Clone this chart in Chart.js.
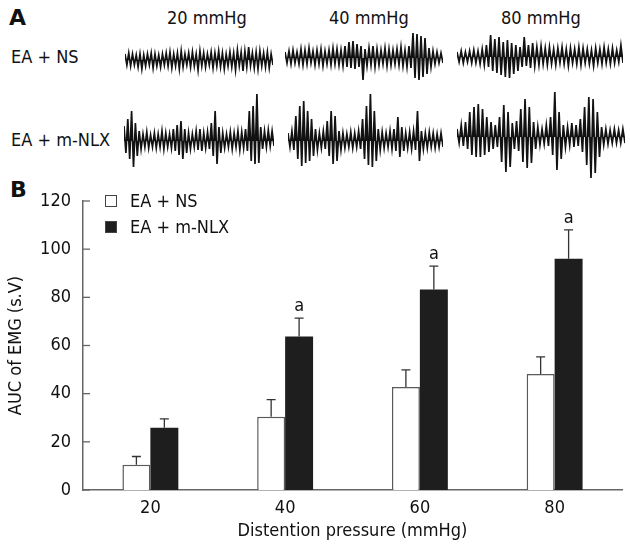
<!DOCTYPE html>
<html>
<head>
<meta charset="utf-8">
<script src="https://cdn.jsdelivr.net/npm/chart.js@4.4.1/dist/chart.umd.min.js"></script>
<style>
  body { margin: 0; background: #fff; }
  #page { position: relative; width: 630px; height: 546px; overflow: hidden;
          font-family: 'DejaVu Sans Condensed', 'Liberation Sans', sans-serif; color: #111; }
  .txt { position: absolute; font-size: 18px; line-height: 20px; white-space: nowrap; }
  .panel { font-weight: bold; font-size: 22px; font-family: 'DejaVu Sans', sans-serif; }
  canvas.trace { position: absolute; }
  #barWrap { position: absolute; left: 0; top: 170px; width: 630px; height: 376px; }
</style>
</head>
<body>
<div id="page">
  <div class="txt panel" style="left:9px; top:8px;">A</div>
  <div class="txt" style="left:167px; top:8px;">20 mmHg</div>
  <div class="txt" style="left:329px; top:8px;">40 mmHg</div>
  <div class="txt" style="left:501px; top:8px;">80 mmHg</div>
  <div class="txt" style="left:11px; top:47px;">EA + NS</div>
  <div class="txt" style="left:11px; top:130px;">EA + m-NLX</div>
  <div class="txt panel" style="left:10px; top:180px;">B</div>

  <canvas class="trace" id="ns20" width="148" height="60" style="left:125px; top:30px;"></canvas>
  <canvas class="trace" id="ns40" width="158" height="60" style="left:285px; top:28px;"></canvas>
  <canvas class="trace" id="ns80" width="166" height="60" style="left:457px; top:27px;"></canvas>
  <canvas class="trace" id="nlx20" width="150" height="100" style="left:124px; top:91px;"></canvas>
  <canvas class="trace" id="nlx40" width="155" height="100" style="left:288px; top:91px;"></canvas>
  <canvas class="trace" id="nlx80" width="168" height="100" style="left:457px; top:87px;"></canvas>

  <div id="barWrap"><canvas id="aucChart" width="630" height="376"></canvas></div>
</div>

<script>
// Panel A: EMG excursions (upward / downward peak per time bin)
const ns20Up   = [6,7,6,5,6,5,6,7,6,5,6,7,8,6,7,9,6,7,8,6,9,7,6,8,7,9,7,6,8,7,10,8,9,13,7,8,9,7,8,6];
const ns20Down = [5,6,5,7,9,6,5,8,6,7,5,6,8,6,9,7,5,7,6,10,6,7,5,8,6,7,9,6,7,10,6,11,7,6,8,9,6,7,8,5];
const ns40Up   = [6,7,8,6,9,8,10,7,8,9,7,8,10,9,8,12,16,17,14,12,9,10,12,9,8,10,9,8,9,11,8,12,25,24,22,20,10,7,6,5];
const ns40Down = [5,6,5,6,7,6,5,7,6,8,6,7,6,7,8,9,10,11,9,22,8,7,9,7,6,8,7,6,7,8,9,10,20,22,19,16,9,6,5,5];
const ns80Up   = [5,6,5,6,7,6,8,12,22,18,20,15,17,14,12,10,20,12,14,10,11,9,10,8,9,10,8,9,8,10,9,8,7,9,8,10,8,9,7,12];
const ns80Down = [5,6,5,6,6,7,8,10,14,16,18,20,21,17,14,10,9,11,9,8,7,8,7,8,6,7,9,6,7,8,6,7,9,6,7,6,7,6,5,6];

const nlx20Up   = [15,22,30,18,10,7,9,6,8,7,10,8,7,12,16,20,12,8,7,10,12,8,9,18,30,14,8,7,9,8,10,9,12,30,35,47,14,10,11,10];
const nlx20Down = [12,18,26,15,8,6,7,6,7,6,8,6,7,10,14,18,12,8,6,9,10,7,8,15,23,12,7,6,8,6,9,7,10,20,23,22,8,6,5,5];
const nlx40Up   = [8,10,25,35,40,30,22,12,8,10,20,30,25,10,8,7,9,8,10,22,35,47,30,12,9,8,10,12,24,14,8,9,10,30,10,8,9,8,7,8];
const nlx40Down = [6,9,18,25,22,20,15,9,7,8,15,23,20,9,7,6,7,6,8,18,24,26,20,9,7,6,8,10,16,10,7,8,9,20,8,7,6,7,6,6];
const nlx80Up   = [8,12,15,25,30,33,28,20,15,12,20,32,25,14,16,28,38,30,15,10,8,12,20,45,25,12,10,14,12,18,30,40,38,25,10,8,7,8,7,8];
const nlx80Down = [6,9,12,18,20,20,18,15,12,10,25,35,30,12,14,25,31,26,12,8,7,9,18,33,22,10,8,10,9,15,28,41,36,20,8,7,6,6,6,6];

// Panel B: AUC of EMG
const pressures = ['20', '40', '60', '80'];
const aucNS     = [10.5, 30.4, 42.8, 48.2];
const aucNSErr  = [3.4, 7.1, 7.1, 7.1];
const aucNLX    = [25.8, 63.7, 83.3, 96.0];
const aucNLXErr = [3.7, 7.7, 9.7, 12.0];
const nlxMarks  = ['', 'a', 'a', 'a'];
const yTicks    = [0, 20, 40, 60, 80, 100, 120];

const FONT = "'DejaVu Sans Condensed', 'Liberation Sans', sans-serif";

// draw one EMG trace: zigzag between the up and down peaks, filled to the baseline
function drawTrace(id, up, down, amp) {
    const points = [];
    up.forEach((u, i) => { points.push(u); points.push(-down[i]); });
    new Chart(document.getElementById(id), {
        type: 'line',
        data: {
            labels: points.map((_, i) => i),
            datasets: [{
                data: points,
                borderColor: '#121212',
                backgroundColor: '#121212',
                borderWidth: 1.7,
                borderJoinStyle: 'miter',
                pointRadius: 0,
                tension: 0,
                fill: 'origin'
            }]
        },
        options: {
            responsive: false,
            animation: false,
            events: [],
            layout: { padding: 0 },
            plugins: { legend: { display: false }, tooltip: { enabled: false } },
            scales: {
                x: { display: false },
                y: { display: false, min: -amp, max: amp }
            }
        }
    });
}

drawTrace('ns20', ns20Up, ns20Down, 30);
drawTrace('ns40', ns40Up, ns40Down, 30);
drawTrace('ns80', ns80Up, ns80Down, 30);
drawTrace('nlx20', nlx20Up, nlx20Down, 50);
drawTrace('nlx40', nlx40Up, nlx40Down, 50);
drawTrace('nlx80', nlx80Up, nlx80Down, 50);

// error bars, significance marks, inward y ticks and legend
const extrasPlugin = {
    id: 'extras',
    afterDatasetsDraw(chart) {
        const ctx = chart.ctx;
        const yScale = chart.scales.y;
        const errs = [aucNSErr, aucNLXErr];
        ctx.save();
        ctx.strokeStyle = '#333';
        ctx.lineWidth = 1.3;
        chart.data.datasets.forEach((ds, di) => {
            chart.getDatasetMeta(di).data.forEach((bar, i) => {
                const top = yScale.getPixelForValue(ds.data[i] + errs[di][i]);
                ctx.beginPath();
                ctx.moveTo(bar.x, bar.y);
                ctx.lineTo(bar.x, top);
                ctx.moveTo(bar.x - 4.5, top);
                ctx.lineTo(bar.x + 4.5, top);
                ctx.stroke();
                if (di === 1 && nlxMarks[i]) {
                    ctx.fillStyle = '#111';
                    ctx.font = '18px ' + FONT;
                    ctx.textAlign = 'center';
                    ctx.textBaseline = 'bottom';
                    ctx.fillText(nlxMarks[i], bar.x, top - 3);
                }
            });
        });

        // inward tick marks on the y axis
        const left = chart.chartArea.left;
        ctx.strokeStyle = '#666';
        ctx.lineWidth = 1.3;
        yTicks.forEach(v => {
            const y = yScale.getPixelForValue(v);
            ctx.beginPath();
            ctx.moveTo(left, y);
            ctx.lineTo(left + 7, y);
            ctx.stroke();
        });

        // legend
        const lx = left + 22, ly = chart.chartArea.top - 6;
        ctx.font = '18px ' + FONT;
        ctx.textAlign = 'left';
        ctx.textBaseline = 'middle';
        chart.data.datasets.forEach((ds, di) => {
            const y = ly + di * 26;
            ctx.fillStyle = ds.backgroundColor;
            ctx.fillRect(lx, y, 12, 12);
            ctx.strokeStyle = '#444';
            ctx.lineWidth = 1;
            ctx.strokeRect(lx + 0.5, y + 0.5, 11, 11);
            ctx.fillStyle = '#111';
            ctx.fillText(ds.label, lx + 25, y + 7);
        });
        ctx.restore();
    }
};

new Chart(document.getElementById('aucChart'), {
    type: 'bar',
    data: {
        labels: pressures,
        datasets: [
            {
                label: 'EA + NS',
                data: aucNS,
                backgroundColor: '#ffffff',
                borderColor: '#5a5a5a',
                borderWidth: { top: 1.5, left: 1.5, right: 1.5, bottom: 0 },
                borderSkipped: 'start',
                categoryPercentage: 0.415,
                barPercentage: 1
            },
            {
                label: 'EA + m-NLX',
                data: aucNLX,
                backgroundColor: '#1e1e1e',
                borderWidth: 0,
                categoryPercentage: 0.415,
                barPercentage: 1
            }
        ]
    },
    options: {
        responsive: false,
        animation: false,
        events: [],
        layout: { padding: { top: 31, right: 8, left: 0, bottom: 0 } },
        plugins: { legend: { display: false }, tooltip: { enabled: false } },
        scales: {
            x: {
                grid: { display: false, drawTicks: false },
                border: { display: true, color: '#666', width: 1.5 },
                ticks: { color: '#111', font: { family: FONT, size: 18 }, padding: 8 },
                title: { display: true, text: 'Distention pressure (mmHg)', color: '#111',
                         font: { family: FONT, size: 18 }, padding: { top: 2 } },
                afterFit(scale) { scale.height = 56; }
            },
            y: {
                min: 0, max: 120,
                afterBuildTicks(scale) { scale.ticks = yTicks.map(v => ({ value: v })); },
                grid: { display: false, drawTicks: false },
                border: { display: true, color: '#666', width: 1.5 },
                ticks: { color: '#111', font: { family: FONT, size: 18 }, padding: 12 },
                title: { display: true, text: 'AUC of EMG (s.V)', color: '#111',
                         font: { family: FONT, size: 18 }, padding: { bottom: 0, top: 6 } },
                afterFit(scale) { scale.width = 83; }
            }
        }
    },
    plugins: [extrasPlugin]
});
</script>
</body>
</html>
